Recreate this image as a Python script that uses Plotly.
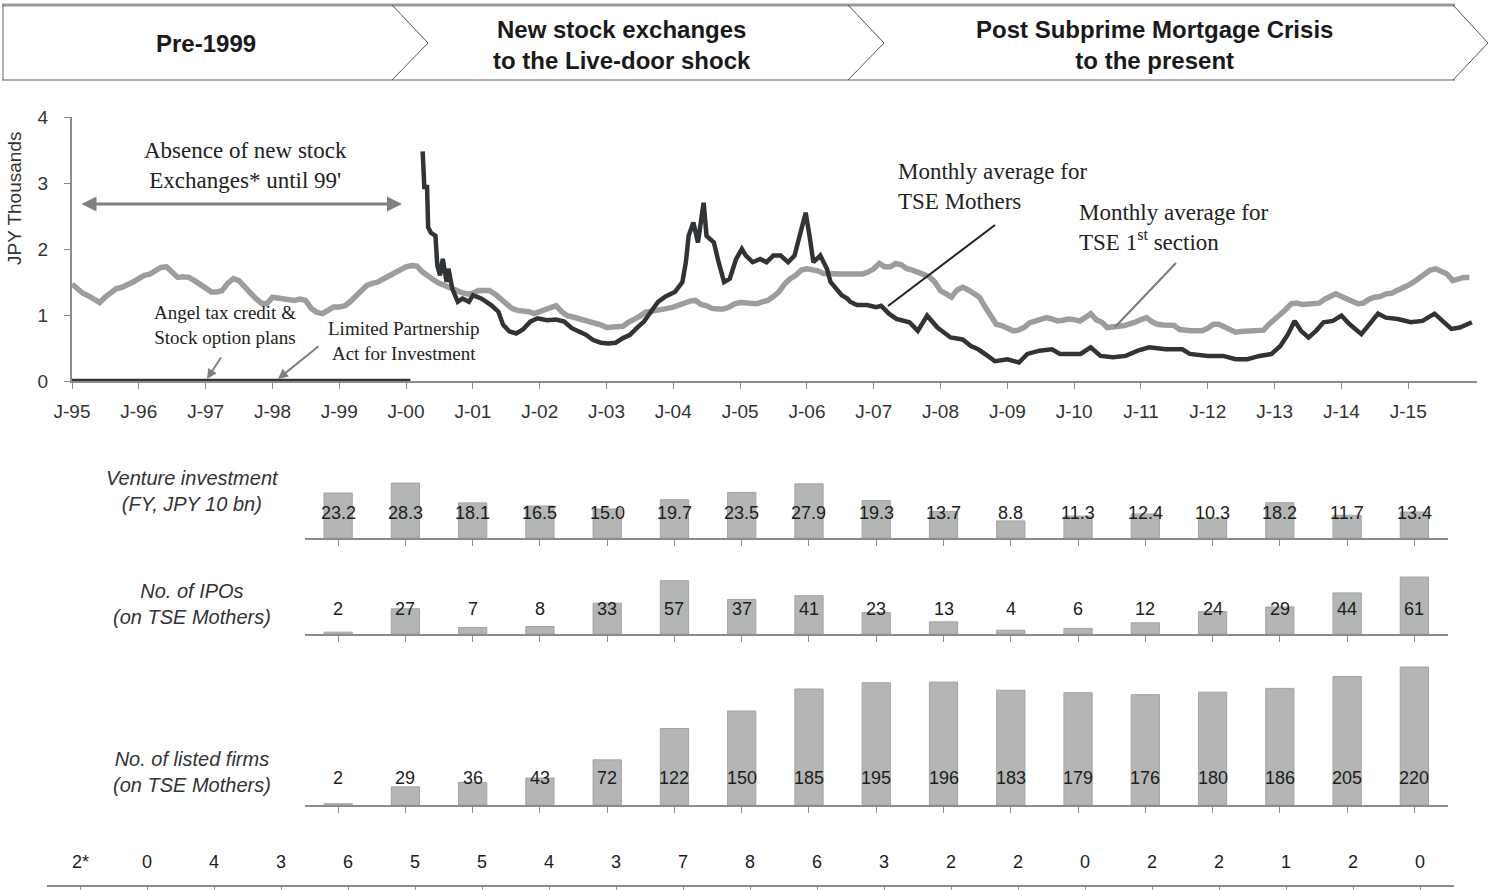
import plotly.graph_objects as go
import pandas as pd

W, H = 1489, 890
def fx(px): return px / W
def fy(py): return 1 - py / H

# ---------------- DATA ----------------
tick_years = list(range(1995, 2016))
tick_labels = ["J-95", "J-96", "J-97", "J-98", "J-99", "J-00", "J-01", "J-02", "J-03", "J-04",
               "J-05", "J-06", "J-07", "J-08", "J-09", "J-10", "J-11", "J-12", "J-13", "J-14", "J-15"]

# TSE 1st section, monthly average (JPY thousands), Jan-95 .. Dec-15
tse1_1995 = [1.47, 1.40, 1.33, 1.29, 1.25, 1.19, 1.27, 1.33, 1.40, 1.42, 1.45, 1.50]
tse1_1996 = [1.55, 1.60, 1.62, 1.68, 1.72, 1.73, 1.65, 1.57, 1.58, 1.57, 1.52, 1.47]
tse1_1997 = [1.40, 1.35, 1.35, 1.37, 1.48, 1.55, 1.52, 1.42, 1.35, 1.25, 1.18, 1.17]
tse1_1998 = [1.27, 1.26, 1.24, 1.25, 1.22, 1.24, 1.22, 1.10, 1.04, 1.02, 1.08, 1.12]
tse1_1999 = [1.12, 1.14, 1.20, 1.29, 1.35, 1.45, 1.48, 1.50, 1.55, 1.60, 1.65, 1.70]
tse1_2000 = [1.73, 1.75, 1.74, 1.65, 1.58, 1.53, 1.48, 1.44, 1.40, 1.37, 1.34, 1.32]
tse1_2001 = [1.33, 1.37, 1.37, 1.37, 1.32, 1.25, 1.17, 1.10, 1.07, 1.07, 1.05, 1.02]
tse1_2002 = [1.05, 1.08, 1.12, 1.14, 1.05, 0.99, 0.97, 0.95, 0.93, 0.90, 0.88, 0.85]
tse1_2003 = [0.81, 0.81, 0.81, 0.83, 0.89, 0.93, 0.98, 1.04, 1.05, 1.07, 1.07, 1.10]
tse1_2004 = [1.12, 1.15, 1.19, 1.21, 1.22, 1.16, 1.14, 1.10, 1.09, 1.09, 1.12, 1.17]
tse1_2005 = [1.19, 1.18, 1.17, 1.17, 1.20, 1.22, 1.28, 1.35, 1.47, 1.55, 1.60, 1.68]
tse1_2006 = [1.70, 1.69, 1.67, 1.63, 1.62, 1.62, 1.62, 1.62, 1.62, 1.62, 1.62, 1.65]
tse1_2007 = [1.70, 1.78, 1.73, 1.73, 1.78, 1.76, 1.70, 1.68, 1.65, 1.62, 1.58, 1.50]
tse1_2008 = [1.37, 1.32, 1.27, 1.38, 1.42, 1.38, 1.33, 1.27, 1.12, 1.00, 0.86, 0.84]
tse1_2009 = [0.81, 0.76, 0.77, 0.81, 0.88, 0.91, 0.94, 0.96, 0.94, 0.91, 0.92, 0.94]
tse1_2010 = [0.93, 0.91, 0.96, 1.02, 0.93, 0.89, 0.81, 0.81, 0.83, 0.84, 0.86, 0.89]
tse1_2011 = [0.93, 0.96, 0.90, 0.86, 0.85, 0.84, 0.84, 0.78, 0.76, 0.76, 0.76, 0.76]
tse1_2012 = [0.80, 0.86, 0.86, 0.82, 0.76, 0.74, 0.75, 0.76, 0.76, 0.76, 0.77, 0.86]
tse1_2013 = [0.93, 0.99, 1.08, 1.17, 1.18, 1.16, 1.17, 1.17, 1.18, 1.24, 1.28, 1.32]
tse1_2014 = [1.28, 1.24, 1.20, 1.17, 1.18, 1.24, 1.27, 1.28, 1.32, 1.33, 1.37, 1.40]
tse1_2015 = [1.45, 1.50, 1.56, 1.62, 1.68, 1.70, 1.65, 1.62, 1.52, 1.55, 1.57, 1.57]

# TSE Mothers (JPY thousands); zero before its index existed, then read points
mothers_dates = [
    "1995-01-01", "2000-01-25", None,
    "2000-04-01", "2000-04-10", "2000-04-25", "2000-05-01", "2000-05-15", "2000-06-10", "2000-06-20",
    "2000-07-05", "2000-07-20", "2000-08-10", "2000-08-20", "2000-09-10", "2000-10-10", "2000-11-05",
    "2000-12-10", "2001-01-01", "2001-02-15", "2001-04-10", "2001-05-20", "2001-06-15", "2001-07-20",
    "2001-08-25", "2001-10-01", "2001-11-10", "2001-12-20", "2002-02-10", "2002-04-01", "2002-05-15",
    "2002-06-25", "2002-08-01", "2002-09-10", "2002-10-20", "2002-12-01", "2003-01-10", "2003-02-20",
    "2003-04-01", "2003-05-10", "2003-06-15", "2003-07-25", "2003-09-01", "2003-10-10", "2003-11-20",
    "2004-01-10", "2004-02-20", "2004-03-10", "2004-03-25", "2004-04-20", "2004-05-15", "2004-05-25",
    "2004-06-15", "2004-07-01", "2004-08-10", "2004-09-05", "2004-10-05", "2004-11-05", "2004-12-10",
    "2005-01-10", "2005-02-01", "2005-03-10", "2005-04-20", "2005-05-25", "2005-07-01", "2005-08-10",
    "2005-09-20", "2005-10-25", "2005-11-25", "2005-12-25", "2006-01-15", "2006-02-05", "2006-03-15",
    "2006-04-20", "2006-05-10", "2006-06-10", "2006-07-10", "2006-08-10", "2006-08-25", "2006-10-01",
    "2006-11-25", "2007-01-15", "2007-02-10", "2007-03-25", "2007-05-05", "2007-07-15", "2007-08-30",
    "2007-10-20", "2007-12-15", "2008-02-25", "2008-05-01", "2008-06-15", "2008-07-25", "2008-09-15",
    "2008-10-25", "2009-01-01", "2009-03-05", "2009-04-20", "2009-06-25", "2009-09-01", "2009-10-15",
    "2010-02-05", "2010-04-01", "2010-05-25", "2010-08-01", "2010-10-10", "2010-12-15", "2011-02-15",
    "2011-05-15", "2011-08-15", "2011-09-25", "2012-01-01", "2012-03-25", "2012-06-01", "2012-08-05",
    "2012-10-10", "2012-12-15", "2013-02-01", "2013-03-15", "2013-04-20", "2013-05-25", "2013-07-05",
    "2013-08-15", "2013-09-25", "2013-11-15", "2014-01-01", "2014-02-15", "2014-04-20", "2014-06-05",
    "2014-07-20", "2014-09-01", "2014-11-05", "2015-01-15", "2015-03-20", "2015-05-25", "2015-07-10",
    "2015-08-25", "2015-10-10", "2015-12-15",
]
mothers_vals = [
    0.0, 0.0, None,
    3.48, 2.94, 2.94, 2.33, 2.25, 2.20, 1.75,
    1.60, 1.85, 1.50, 1.70, 1.40, 1.20, 1.25,
    1.20, 1.30, 1.25, 1.15, 1.05, 0.85, 0.75,
    0.72, 0.78, 0.90, 0.95, 0.92, 0.93, 0.90,
    0.80, 0.75, 0.70, 0.62, 0.58, 0.57, 0.58,
    0.65, 0.70, 0.80, 0.90, 1.05, 1.20, 1.28,
    1.35, 1.50, 1.80, 2.20, 2.40, 2.10, 2.30,
    2.70, 2.20, 2.10, 1.80, 1.50, 1.55, 1.85,
    2.00, 1.90, 1.80, 1.85, 1.80, 1.90, 1.90,
    1.80, 1.90, 2.20, 2.55, 2.20, 1.80, 1.90,
    1.70, 1.50, 1.40, 1.30, 1.25, 1.20, 1.15,
    1.15, 1.12, 1.14, 1.02, 0.94, 0.89, 0.76,
    0.99, 0.81, 0.66, 0.63, 0.53, 0.48, 0.38,
    0.30, 0.33, 0.28, 0.41, 0.46, 0.48, 0.41,
    0.41, 0.51, 0.38, 0.36, 0.38, 0.46, 0.51,
    0.48, 0.48, 0.41, 0.38, 0.38, 0.33, 0.33,
    0.38, 0.41, 0.53, 0.71, 0.91, 0.76, 0.66,
    0.76, 0.89, 0.91, 0.99, 0.86, 0.71, 0.86,
    1.02, 0.96, 0.94, 0.89, 0.91, 1.02, 0.91,
    0.79, 0.81, 0.89,
]

bar_years = ["FY1999", "FY2000", "FY2001", "FY2002", "FY2003", "FY2004", "FY2005", "FY2006", "FY2007",
             "FY2008", "FY2009", "FY2010", "FY2011", "FY2012", "FY2013", "FY2014", "FY2015"]
venture_investment = [23.2, 28.3, 18.1, 16.5, 15.0, 19.7, 23.5, 27.9, 19.3, 13.7, 8.8, 11.3, 12.4, 10.3, 18.2, 11.7, 13.4]
ipos = [2, 27, 7, 8, 33, 57, 37, 41, 23, 13, 4, 6, 12, 24, 29, 44, 61]
listed_firms = [2, 29, 36, 43, 72, 122, 150, 185, 195, 196, 183, 179, 176, 180, 186, 205, 220]

bottom_years = ["Y1995", "Y1996", "Y1997", "Y1998", "Y1999", "Y2000", "Y2001", "Y2002", "Y2003", "Y2004", "Y2005",
                "Y2006", "Y2007", "Y2008", "Y2009", "Y2010", "Y2011", "Y2012", "Y2013", "Y2014", "Y2015"]
bottom_labels = ["2*", "0", "4", "3", "6", "5", "5", "4", "3", "7", "8", "6", "3", "2", "2", "0", "2", "2", "1", "2", "0"]

# ---------------- FIGURE ----------------
tse1_vals = (tse1_1995 + tse1_1996 + tse1_1997 + tse1_1998 + tse1_1999 + tse1_2000 + tse1_2001 +
             tse1_2002 + tse1_2003 + tse1_2004 + tse1_2005 + tse1_2006 + tse1_2007 + tse1_2008 +
             tse1_2009 + tse1_2010 + tse1_2011 + tse1_2012 + tse1_2013 + tse1_2014 + tse1_2015)
tse1_dates = pd.date_range("1995-01-01", periods=len(tse1_vals), freq="MS")

SANS = "Liberation Sans, Arial, sans-serif"
SERIF = "Liberation Serif, Times New Roman, serif"
GRAY_LINE = "#9c9e9e"
DARK_LINE = "#303436"
AXIS = "#8c8c8c"
BAR = "#b4b6b6"

fig = go.Figure()
fig.add_trace(go.Scatter(x=tse1_dates, y=tse1_vals, mode="lines",
                         line=dict(color=GRAY_LINE, width=5.5), xaxis="x", yaxis="y", hoverinfo="skip"))
fig.add_trace(go.Scatter(x=mothers_dates, y=mothers_vals, mode="lines", connectgaps=False,
                         line=dict(color=DARK_LINE, width=4.5), xaxis="x", yaxis="y", hoverinfo="skip"))

bar_rows = [
    ("x2", "y2", venture_investment, [f"{v:.1f}" for v in venture_investment]),
    ("x3", "y3", ipos, [str(v) for v in ipos]),
    ("x4", "y4", listed_firms, [str(v) for v in listed_firms]),
]
for xa, ya, vals, _ in bar_rows:
    fig.add_trace(go.Bar(x=bar_years, y=vals, xaxis=xa, yaxis=ya,
                         marker=dict(color=BAR, line=dict(color="#a2a4a4", width=1)),
                         hoverinfo="skip"))

# invisible trace to establish bottom-row category axis
fig.add_trace(go.Scatter(x=bottom_years, y=[0] * len(bottom_years), mode="markers",
                         marker=dict(opacity=0), xaxis="x5", yaxis="y5", hoverinfo="skip"))

annotations = []
shapes = []

def txt(x, y, text, font, **kw):
    d = dict(x=fx(x), y=fy(y), xref="paper", yref="paper", text=text, showarrow=False,
             xanchor="center", yanchor="middle", font=font)
    d.update(kw)
    return d

VAL_FONT = dict(family=SANS, size=18, color="#1c1c1c")
# value labels for bar rows (fixed height above baseline)
label_y = {"x2": 513, "x3": 609, "x4": 778}
for xa, ya, vals, texts in bar_rows:
    for i, t in enumerate(texts):
        annotations.append(dict(x=i, xref=xa, y=fy(label_y[xa]), yref="paper", text=t,
                                xanchor="center", yanchor="middle",
                                showarrow=False, font=VAL_FONT))
for i, t in enumerate(bottom_labels):
    annotations.append(dict(x=i, xref="x5", y=fy(862), yref="paper", text=t,
                            xanchor="center", yanchor="middle",
                            showarrow=False, font=VAL_FONT))

# row titles
ROW_FONT = dict(family=SANS, size=20, color="#333333")
annotations += [
    txt(192, 491, "<i>Venture investment<br>(FY, JPY 10 bn)</i>", ROW_FONT),
    txt(192, 604, "<i>No. of IPOs<br>(on TSE Mothers)</i>", ROW_FONT),
    txt(192, 772, "<i>No. of listed firms<br>(on TSE Mothers)</i>", ROW_FONT),
]

# y-axis title
annotations.append(txt(15, 199, "JPY Thousands", dict(family=SANS, size=19, color="#333333"), textangle=-90))

# banner
banner_font = dict(family=SANS, size=24, color="#1a1a1a")
annotations += [
    txt(206, 44, "<b>Pre-1999</b>", banner_font),
    txt(622, 45, "<b>New stock exchanges<br>to the Live-door shock</b>", banner_font),
    txt(1154, 45, "<b>Post Subprime Mortgage Crisis<br>to the present</b>", banner_font),
]
shapes.append(dict(type="line", xref="paper", yref="paper", x0=fx(2), x1=fx(1455), y0=fy(5), y1=fy(5),
                   line=dict(color="#9a9a9a", width=3)))
shapes.append(dict(type="line", xref="paper", yref="paper", x0=fx(2), x1=fx(1455), y0=fy(80), y1=fy(80),
                   line=dict(color="#b0b0b0", width=2)))
shapes.append(dict(type="line", xref="paper", yref="paper", x0=fx(3), x1=fx(3), y0=fy(5), y1=fy(80),
                   line=dict(color="#666666", width=1)))
for x0, x1 in [(392, 428), (848, 884), (1453, 1488)]:
    path = f"M {fx(x0)},{fy(5)} L {fx(x1)},{fy(43)} L {fx(x0)},{fy(80)}"
    shapes.append(dict(type="path", xref="paper", yref="paper", path=path,
                       line=dict(color="#555555", width=1)))

# chart annotations
SERIF_BIG = dict(family=SERIF, size=23, color="#222222")
SERIF_SMALL = dict(family=SERIF, size=19, color="#222222")
annotations += [
    txt(245, 165, "Absence of new stock<br>Exchanges* until 99'", SERIF_BIG),
    dict(x=fx(402), y=fy(204), xref="paper", yref="paper", text="", showarrow=True,
         ax=-322, ay=0, arrowside="end+start", arrowhead=2, arrowsize=1, arrowwidth=3, arrowcolor="#808080"),
    txt(225, 325, "Angel tax credit &<br>Stock option plans", SERIF_SMALL),
    dict(x=fx(207), y=fy(379), xref="paper", yref="paper", text="", showarrow=True,
         ax=15, ay=-23, arrowhead=2, arrowsize=1, arrowwidth=2, arrowcolor="#808080"),
    txt(403, 341, "Limited Partnership<br>Act for Investment", SERIF_SMALL),
    dict(x=fx(278), y=fy(379), xref="paper", yref="paper", text="", showarrow=True,
         ax=42, ay=-34, arrowhead=2, arrowsize=1, arrowwidth=2, arrowcolor="#808080"),
    txt(896, 186, "Monthly average for<br>TSE Mothers", SERIF_BIG, xanchor="left", align="left"),
    txt(1077, 228, "Monthly average for<br>TSE 1<sup>st</sup> section", SERIF_BIG, xanchor="left", align="left"),
]
shapes.append(dict(type="line", xref="paper", yref="paper", x0=fx(995), y0=fy(225), x1=fx(888), y1=fy(306),
                   line=dict(color="#222222", width=2)))
shapes.append(dict(type="line", xref="paper", yref="paper", x0=fx(1176), y0=fy(263), x1=fx(1115), y1=fy(327),
                   line=dict(color="#7a7a7a", width=2)))

row_x = dict(domain=[fx(304.5), fx(1448)], type="category", range=[-0.5, len(bar_years) - 0.5],
             showline=True, linecolor=AXIS, linewidth=2,
             ticks="outside", ticklen=6, tickcolor=AXIS, showticklabels=False, showgrid=False, zeroline=False,
             fixedrange=True)
TICK_FONT = dict(family=SANS, size=19, color="#333333")

fig.update_layout(
    width=W, height=H, margin=dict(l=0, r=0, t=0, b=0, autoexpand=False),
    paper_bgcolor="white", plot_bgcolor="rgba(0,0,0,0)",
    showlegend=False, bargap=0.58,
    xaxis=dict(domain=[fx(72), fx(1477)], type="date", range=["1995-01-01", "2016-01-12"],
               tickvals=[f"{y}-01-01" for y in tick_years], ticktext=tick_labels,
               showline=True, linecolor=AXIS, linewidth=2, ticks="outside", ticklen=6, tickcolor=AXIS,
               ticklabelstandoff=6,
               showgrid=False, zeroline=False, anchor="y", tickfont=TICK_FONT),
    yaxis=dict(domain=[fy(381), fy(117)], range=[0, 4], tickvals=[0, 1, 2, 3, 4],
               showline=True, linecolor=AXIS, linewidth=2, ticks="outside", ticklen=6, tickcolor=AXIS,
               ticklabelstandoff=12,
               showgrid=False, zeroline=False, anchor="x", tickfont=TICK_FONT),
    xaxis2=dict(row_x, anchor="y2"),
    yaxis2=dict(domain=[fy(538), fy(478)], range=[0, 60 / 1.94], visible=False, anchor="x2"),
    xaxis3=dict(row_x, anchor="y3"),
    yaxis3=dict(domain=[fy(634), fy(570)], range=[0, 64 / 0.934], visible=False, anchor="x3"),
    xaxis4=dict(row_x, anchor="y4"),
    yaxis4=dict(domain=[fy(805), fy(660)], range=[0, 145 / 0.627], visible=False, anchor="x4"),
    xaxis5=dict(row_x, domain=[fx(46.5), fx(1453.5)], range=[-0.5, len(bottom_years) - 0.5], anchor="y5"),
    yaxis5=dict(domain=[fy(885), fy(840)], range=[0, 1], visible=False, anchor="x5"),
    annotations=annotations, shapes=shapes,
)

fig.write_html("out.html", config={"displayModeBar": False},
               post_script="document.body.style.margin='0px';document.body.style.overflow='hidden';")
